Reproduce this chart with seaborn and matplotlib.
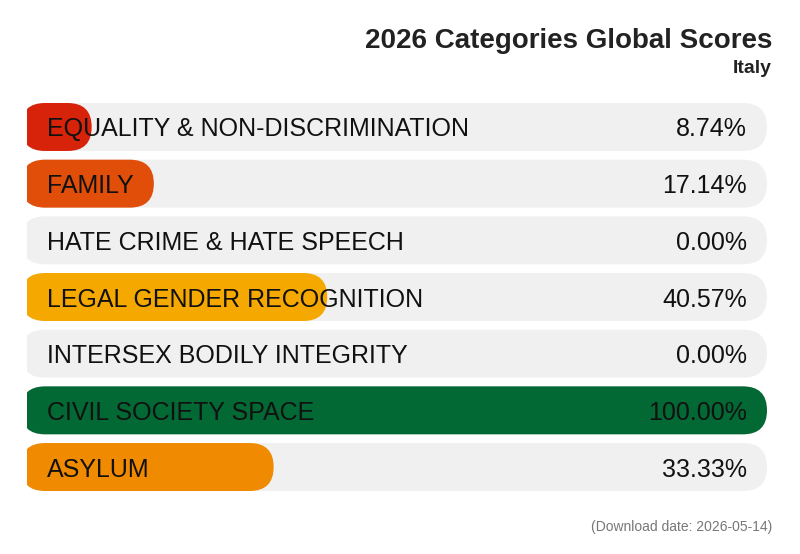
import matplotlib
matplotlib.use("Agg")
import matplotlib.pyplot as plt
from matplotlib.patches import FancyBboxPatch
import seaborn as sns
import pandas as pd

categories = ["EQUALITY & NON-DISCRIMINATION", "FAMILY", "HATE CRIME & HATE SPEECH",
              "LEGAL GENDER RECOGNITION", "INTERSEX BODILY INTEGRITY",
              "CIVIL SOCIETY SPACE", "ASYLUM"]
scores = [8.74, 17.14, 0.00, 40.57, 0.00, 100.00, 33.33]
colors = ["#d7230a", "#e04e0a", "#cccccc", "#f5a800", "#cccccc", "#036934", "#f08a00"]
title = "2026 Categories Global Scores"
subtitle = "Italy"
footer = "(Download date: 2026-05-14)"

sns.set_theme(style="white")
plt.rcParams["font.family"] = ["Liberation Sans", "DejaVu Sans"]

df = pd.DataFrame({"category": categories, "score": scores, "full": [100.0] * len(scores)})

W, H = 800, 554
fig = plt.figure(figsize=(W / 100, H / 100), dpi=100)
left_px, right_px = 27, 767
row_h = 56.7
top_px = 127 - row_h / 2
bot_px = 467 + row_h / 2
ax = fig.add_axes([left_px / W, 1 - bot_px / H, (right_px - left_px) / W, (bot_px - top_px) / H])

bar_w = 48 / row_h
sns.barplot(data=df, y="category", x="full", color="#f0f0f0", width=bar_w, ax=ax,
            orient="h", saturation=1)
n_bg = len(ax.patches)
sns.barplot(data=df, y="category", x="score", hue="category", palette=colors,
            width=bar_w, ax=ax, orient="h", saturation=1, legend=False)

ax.set_xlim(0, 100)
ax.set_ylim(len(categories) - 0.5, -0.5)

px_per_x = (right_px - left_px) / 100.0
px_per_y = row_h
start = -6 / px_per_x
r_px = 24
aspect = px_per_x / px_per_y

rects = list(ax.patches)
for i, p in enumerate(rects):
    x0, y0 = p.get_x(), p.get_y()
    w, h = p.get_width(), p.get_height()
    fc = p.get_facecolor()
    p.remove()
    if w <= 0:
        continue
    z = 1 if i < n_bg else 2
    fb = FancyBboxPatch((start, y0), w - start, h,
                        boxstyle=f"round,pad=0,rounding_size={r_px / px_per_x}",
                        mutation_aspect=aspect, facecolor=fc, edgecolor="none",
                        zorder=z, clip_on=True)
    ax.add_patch(fb)

for i, (c, s) in enumerate(zip(categories, scores)):
    ax.text(20 / px_per_x, i, c, ha="left", va="center_baseline", fontsize=18,
            color="#111111", zorder=5)
    ax.text(100 - 20 / px_per_x, i, f"{s:.2f}%", ha="right", va="center_baseline",
            fontsize=18, color="#111111", zorder=5)

ax.set_axis_off()

fig.text(772 / W, 1 - 48 / H, title, ha="right", va="baseline", fontsize=20,
         fontweight="bold", color="#222222")
fig.text(772 / W, 1 - 73 / H, subtitle, ha="right", va="baseline", fontsize=14,
         fontweight="bold", color="#222222")
fig.text(772 / W, 1 - 531 / H, footer, ha="right", va="baseline", fontsize=10,
         color="#777777")

fig.savefig("out.png", dpi=100, facecolor="white")
